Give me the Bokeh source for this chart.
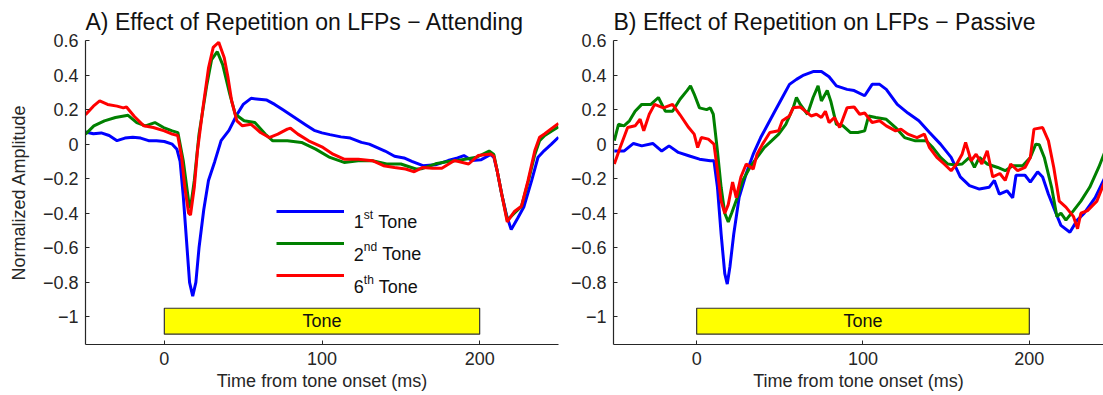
from bokeh.plotting import figure
from bokeh.layouts import row
from bokeh.models import (FixedTicker, Legend, LegendItem, Label, Range1d,
                          CustomJSTickFormatter)
from bokeh.core.properties import value
from bokeh.embed import file_html
from bokeh.resources import INLINE

FONT = "Liberation Sans"
INK = "#262626"

# ---------------- data ----------------
# A) Attending
att_blue_t = [-50, -45, -40, -35, -30, -25, -20, -15, -10, -5, 0, 5, 8, 10, 12, 14, 16, 18, 20, 22, 25, 28, 32, 36, 41, 46, 50, 55, 60, 65, 70, 75, 80, 85, 90, 95, 100, 105, 112, 118, 125, 130, 135, 140, 146, 152, 157, 164, 172, 180, 186, 190, 195, 201, 207, 209, 211, 214, 217, 220, 224, 228, 233, 237, 241, 245.5, 250]
att_blue_v = [0.07, 0.06, 0.065, 0.05, 0.02, 0.035, 0.04, 0.035, 0.02, 0.02, 0.015, 0.0, -0.03, -0.1, -0.3, -0.55, -0.8, -0.88, -0.8, -0.6, -0.38, -0.21, -0.1, 0.02, 0.08, 0.17, 0.23, 0.265, 0.26, 0.255, 0.23, 0.2, 0.17, 0.14, 0.11, 0.08, 0.065, 0.055, 0.042, 0.035, 0.01, 0.0, -0.02, -0.04, -0.07, -0.08, -0.1, -0.125, -0.12, -0.095, -0.08, -0.066, -0.095, -0.09, -0.06, -0.076, -0.15, -0.29, -0.41, -0.495, -0.43, -0.364, -0.21, -0.076, -0.037, 0.0, 0.04]

att_green_t = [-50, -44.7, -38, -31, -23, -17.5, -12, -6, -0.5, 5, 8.6, 12, 15.4, 16.6, 19, 22, 27, 30, 33.6, 37, 41.5, 45, 50.6, 57.4, 64, 68.8, 78, 87, 96, 105, 114, 123, 132, 141, 150, 159.6, 163, 172, 180, 186, 198, 206, 209, 211, 214, 217.5, 222, 226.5, 230.7, 235, 238, 241.3, 245.5, 250]
att_green_v = [0.058, 0.106, 0.135, 0.154, 0.167, 0.125, 0.106, 0.125, 0.096, 0.077, 0.067, -0.096, -0.33, -0.37, -0.21, 0.058, 0.346, 0.49, 0.535, 0.46, 0.29, 0.173, 0.135, 0.125, 0.058, 0.019, 0.019, 0.01, -0.029, -0.077, -0.106, -0.096, -0.096, -0.115, -0.115, -0.144, -0.143, -0.114, -0.1, -0.095, -0.076, -0.04, -0.06, -0.15, -0.29, -0.44, -0.4, -0.36, -0.22, -0.06, 0.02, 0.05, 0.075, 0.1]

att_red_t = [-50, -45, -41, -36, -30, -26, -24, -19, -13, -7, 0, 5, 8.5, 11, 13, 15.4, 16.6, 19, 21, 24.5, 28, 31, 34.5, 38, 40.4, 42.7, 46, 49.5, 55, 61, 66.5, 72, 78, 80, 84.7, 91.5, 100.6, 107, 114, 123, 132, 139, 146, 153, 158.5, 164, 170, 176, 184, 193, 199, 207, 209, 211, 214, 217.5, 222, 226.5, 230.7, 235, 238, 241.3, 245.5, 250]
att_red_v = [0.17, 0.22, 0.25, 0.23, 0.22, 0.21, 0.215, 0.16, 0.106, 0.096, 0.077, 0.058, 0.05, -0.077, -0.25, -0.4, -0.41, -0.25, -0.04, 0.21, 0.44, 0.56, 0.59, 0.5, 0.385, 0.25, 0.135, 0.106, 0.115, 0.067, 0.038, 0.058, 0.087, 0.092, 0.058, 0.019, -0.019, -0.058, -0.087, -0.087, -0.096, -0.125, -0.135, -0.144, -0.16, -0.135, -0.14, -0.14, -0.095, -0.115, -0.066, -0.057, -0.07, -0.15, -0.29, -0.45, -0.39, -0.36, -0.21, -0.037, 0.04, 0.06, 0.09, 0.12]

# B) Passive
pas_blue_t = [-49.5, -43.7, -38, -33, -26.4, -21, -16.6, -11, -4.8, 1.7, 8.2, 10.4, 12.5, 14.7, 16.9, 18.4, 20, 22.3, 25.5, 29.8, 34, 38.5, 42.8, 47, 51.5, 55.8, 60, 64.4, 70, 75, 79.6, 84, 90.4, 94.7, 101, 105.5, 110, 114, 120.6, 127, 133.6, 140, 146.6, 153, 158.5, 164, 170, 175.8, 179, 182, 186.6, 190, 192, 197.4, 200.6, 205, 208, 211.5, 216, 219, 224.4, 228.8, 233, 239.6, 245.6, 250]
pas_blue_v = [-0.04, -0.04, 0.004, -0.01, 0.004, -0.04, -0.01, -0.048, -0.067, -0.087, -0.096, -0.096, -0.25, -0.52, -0.75, -0.81, -0.71, -0.52, -0.31, -0.17, -0.058, 0.038, 0.115, 0.19, 0.27, 0.346, 0.375, 0.4, 0.42, 0.42, 0.39, 0.337, 0.317, 0.31, 0.28, 0.346, 0.346, 0.317, 0.23, 0.18, 0.135, 0.067, 0.0, -0.077, -0.19, -0.24, -0.26, -0.25, -0.21, -0.29, -0.27, -0.31, -0.18, -0.18, -0.22, -0.16, -0.19, -0.29, -0.4, -0.47, -0.51, -0.44, -0.4, -0.31, -0.19, -0.09]

pas_green_t = [-49.5, -47, -43.7, -40.4, -37, -33, -27.5, -23, -18.8, -14.5, -10, -5.8, -3.7, -1.5, 1.7, 6, 8.2, 10, 12.5, 14.7, 16.9, 19, 21, 24.4, 27.7, 32, 36.3, 40.6, 45, 49.3, 53.6, 58, 60, 62.3, 66.6, 70, 73, 75, 78.5, 80.6, 84, 88, 92.5, 96.9, 101, 103.4, 107.7, 114, 119.6, 125, 131.5, 138, 142, 146.6, 151, 155, 159.6, 164, 167, 170, 174.7, 181, 185.5, 190, 196, 200.6, 203.9, 206, 209, 213.4, 216.6, 219, 222, 226.6, 231, 236.3, 241.7, 245.6, 250]
pas_green_v = [0.02, 0.115, 0.106, 0.135, 0.19, 0.23, 0.23, 0.27, 0.19, 0.19, 0.26, 0.31, 0.337, 0.29, 0.21, 0.2, 0.21, 0.173, -0.04, -0.25, -0.4, -0.45, -0.4, -0.31, -0.21, -0.135, -0.077, -0.02, 0.019, 0.058, 0.115, 0.21, 0.27, 0.23, 0.173, 0.27, 0.337, 0.25, 0.31, 0.25, 0.115, 0.106, 0.067, 0.067, 0.077, 0.163, 0.154, 0.144, 0.096, 0.038, 0.019, 0.019, -0.02, -0.077, -0.115, -0.12, -0.115, -0.077, -0.135, -0.077, -0.115, -0.135, -0.154, -0.125, -0.125, -0.077, 0.0, -0.004, -0.077, -0.25, -0.42, -0.4, -0.44, -0.385, -0.33, -0.25, -0.135, -0.04, 0.04]

pas_red_t = [-49.5, -46, -41.5, -37, -34, -31.8, -28.5, -25.3, -20, -14.5, -10, -4.8, -1.5, 0.6, 2.8, 7, 10.4, 12.5, 14.7, 16.9, 19, 21.6, 23.8, 26.6, 29.8, 34, 36.3, 39.6, 44, 49.3, 51.5, 55.8, 58, 62.3, 65.5, 68.8, 72, 75, 77.4, 79.6, 82.8, 86, 90.4, 94.7, 98, 101, 105.5, 110, 114, 119.6, 122.8, 127, 132.5, 136.9, 140, 144.4, 148.8, 153, 156.3, 159.6, 161.7, 165, 168, 171.5, 174.7, 178, 182.3, 185.5, 188.8, 193, 197.4, 200.6, 202.8, 208, 211.5, 214.7, 218, 222, 226.6, 229, 231, 235, 240.6, 245.6, 250]
pas_red_v = [-0.115, -0.02, 0.096, 0.106, 0.144, 0.077, 0.173, 0.23, 0.21, 0.23, 0.17, 0.096, 0.058, -0.02, 0.038, 0.029, 0.0, -0.154, -0.33, -0.4, -0.35, -0.22, -0.31, -0.19, -0.115, -0.144, -0.058, 0.0, 0.067, 0.077, 0.135, 0.163, 0.21, 0.215, 0.19, 0.163, 0.173, 0.154, 0.19, 0.125, 0.154, 0.096, 0.21, 0.215, 0.173, 0.18, 0.125, 0.135, 0.106, 0.077, 0.087, 0.058, 0.038, 0.058, -0.02, -0.077, -0.115, -0.154, -0.115, -0.058, 0.01, -0.096, -0.058, -0.115, -0.038, -0.19, -0.17, -0.21, -0.115, -0.154, -0.135, -0.077, 0.087, 0.096, 0.019, -0.135, -0.33, -0.365, -0.42, -0.49, -0.4, -0.385, -0.33, -0.21, -0.13]

series_labels = [("1", "st"), ("2", "nd"), ("6", "th")]
series_colors = ["#0000FF", "#008000", "#FF0000"]

x_ticks = [0, 100, 200]
y_ticks = [-1.0, -0.8, -0.6, -0.4, -0.2, 0.0, 0.2, 0.4, 0.6]
x_start, x_end_full = -50, 250
y_start, y_end = -1.16, 0.6

tone_on, tone_off = [0], [200]
tone_bottom, tone_top = [-1.1], [-0.95]
tone_label = ["Tone"]

# simple Arial advance widths (em) for legend text layout
ADV = {"1": .556, "2": .556, "6": .556, "s": .5, "t": .278, "n": .556, "d": .556, "h": .556, " ": .278}


def text_w(s, size):
    return sum(ADV.get(c, .556) for c in s) * size


def make_panel(title, width, border_left, border_right, x_end, data, ylabel, legend):
    p = figure(width=width, height=395, output_backend="svg", toolbar_location=None,
               x_range=Range1d(x_start, x_end), y_range=Range1d(y_start, y_end),
               min_border_left=border_left, min_border_right=border_right,
               min_border_top=40, min_border_bottom=51, title=title)
    p.outline_line_color = None
    p.grid.visible = False
    p.background_fill_color = "white"
    p.border_fill_color = "white"

    p.title.text_font = FONT
    p.title.text_font_size = "23px"
    p.title.text_font_style = "normal"
    p.title.text_color = "#111111"
    p.title.align = "left"
    p.title.standoff = 12

    for ax in (p.xaxis[0], p.yaxis[0]):
        ax.axis_line_color = INK
        ax.axis_line_width = 1.2
        ax.major_tick_line_color = INK
        ax.major_tick_in = 4
        ax.major_tick_out = 0
        ax.minor_tick_line_color = None
        ax.major_label_text_font = FONT
        ax.major_label_text_font_size = "18px"
        ax.major_label_text_color = INK
        ax.axis_label_text_font = FONT
        ax.axis_label_text_font_size = "18px"
        ax.axis_label_text_font_style = "normal"
        ax.axis_label_text_color = INK

    p.xaxis.major_label_standoff = 7
    p.yaxis.major_label_standoff = 7
    p.xaxis.ticker = FixedTicker(ticks=x_ticks)
    p.yaxis.ticker = FixedTicker(ticks=y_ticks)
    p.yaxis.formatter = CustomJSTickFormatter(code="""
        const a = Math.abs(tick);
        const s = (Math.abs(Math.round(a * 10) % 10) == 0) ? a.toFixed(0) : a.toFixed(1);
        return (tick < -1e-9 ? "\\u2212" : "") + s;
    """)
    p.xaxis.axis_label = "Time from tone onset (ms)"
    p.xaxis.axis_label_standoff = 3
    if ylabel:
        p.yaxis.axis_label = ylabel
        p.yaxis.axis_label_standoff = 11

    # tone bar
    p.quad(left=tone_on, right=tone_off, bottom=tone_bottom, top=tone_top,
           fill_color="#FFFF00", line_color="#333333", line_width=1.2)
    p.text(x=[(tone_on[0] + tone_off[0]) / 2], y=[(tone_bottom[0] + tone_top[0]) / 2],
           text=tone_label, text_align="center", text_baseline="middle",
           text_font=value(FONT), text_font_size="18px", text_color="#111111")

    renderers = []
    for (t, v), c in zip(data, series_colors):
        r = p.line(t, v, line_color=c, line_width=3)
        renderers.append(r)

    if legend:
        leg = Legend(items=[LegendItem(label=" ", renderers=[r]) for r in renderers],
                     location=(191, 59), glyph_width=68, glyph_height=20, label_height=20,
                     label_width=1, spacing=12, padding=0, margin=0,
                     label_text_font_size="2px", border_line_color=None,
                     background_fill_alpha=0, label_standoff=0)
        p.add_layout(leg)
        base_ys = [122.8, 90.4, 58.0]
        x0 = 268.3
        for (num, sup), by in zip(series_labels, base_ys):
            p.add_layout(Label(x=x0, y=by, x_units="screen", y_units="screen", text=num,
                               text_font=FONT, text_font_size="18px", text_color="#111111",
                               text_baseline="alphabetic", text_align="left"))
            xs = x0 + text_w(num, 18)
            p.add_layout(Label(x=xs, y=by + 7, x_units="screen", y_units="screen", text=sup,
                               text_font=FONT, text_font_size="12px", text_color="#111111",
                               text_baseline="alphabetic", text_align="left"))
            xt = xs + text_w(sup, 12) + text_w(" ", 18)
            p.add_layout(Label(x=xt, y=by, x_units="screen", y_units="screen", text="Tone",
                               text_font=FONT, text_font_size="18px", text_color="#111111",
                               text_baseline="alphabetic", text_align="left"))
    return p


p1 = make_panel("A) Effect of Repetition on LFPs \u2212 Attending", 565, 85, 7, x_end_full,
                [(att_blue_t, att_blue_v), (att_green_t, att_green_v), (att_red_t, att_red_v)],
                "Normalized Amplitude", True)
p2 = make_panel("B) Effect of Repetition on LFPs \u2212 Passive", 538, 48, 0, 244.6,
                [(pas_blue_t, pas_blue_v), (pas_green_t, pas_green_v), (pas_red_t, pas_red_v)],
                None, False)

layout = row(p1, p2)
open("out.html", "w").write(file_html(layout, INLINE))
